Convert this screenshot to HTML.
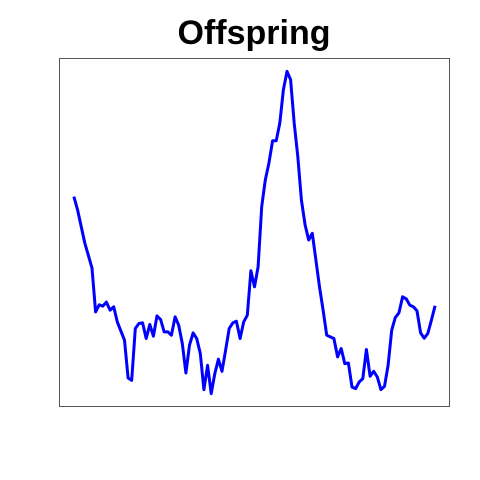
<!DOCTYPE html>
<html><head><meta charset="utf-8"><style>
html,body{margin:0;padding:0;background:#fff;}
svg{display:block;font-family:"Liberation Sans",sans-serif;}
</style></head><body>
<svg id="chart" width="480" height="480" viewBox="0 0 480 480">
<text x="254" y="44" text-anchor="middle" font-size="34" font-weight="bold">Offspring</text>
<rect x="59.5" y="58.5" width="390" height="348" fill="none" stroke="#555" stroke-width="1"/>
<g id="series"></g>
</svg>
<script>
const xIdx = [0,1,3,5,6,7,8,9,10,11,12,14,15,16,17,18,19,20,21,22,23,24,25,26,27,28,29,30,31,32,33,34,35,36,37,38,39,40,41,42,43,44,45,46,47,48,49,50,51,52,53,54,55,56,57,58,59,60,61,62,63,64,65,66,67,68,69,70,71,72,73,74,75,76,77,78,79,80,81,82,83,84,85,86,87,88,89,90,91,92,93,94,95,96,97,98,99,100];
const values = [203.3,190,157,132,88.3,95.3,94,98,90,93.3,78.3,60,22.3,20,71.7,76.7,77.3,61.7,75.7,64,84.3,80.7,68.3,68.3,65,83.3,75,56.7,27.3,55,67.3,61.7,46.7,10.7,35,6.7,26.7,41,29,50,71.7,77.3,79,61.7,78.3,85,129.3,113.3,133.3,193.3,220,236.7,259,259,276.7,310,328.3,320,276.7,243.3,200,175,160,166.7,140,113.3,90,65,63.3,61.7,43.3,51.7,36.7,37.3,13.3,11.7,18.3,21.7,50.7,24,29,23.3,10.7,14,35,70,82.7,87.3,103.3,101.3,95,93.3,89.3,67.3,62,66.7,80,94.3];
const NS='http://www.w3.org/2000/svg';
const xMin=Math.min(...xIdx), xMax=Math.max(...xIdx);
const vMin=Math.min(...values), vMax=Math.max(...values);
const L=59.5,R=449.5,T=58.5,B=406.5;
const px=(R-L)*0.04/1.08, py=(B-T)*0.04/1.08;
function xScale(i){return L+px+(i-xMin)/(xMax-xMin)*(R-L-2*px);}
function yScale(v){return B-py-(v-vMin)/(vMax-vMin)*(B-T-2*py);}
const d=values.map((v,k)=>(k?'L':'M')+xScale(xIdx[k]).toFixed(1)+','+yScale(v).toFixed(1)).join(' ');
const path=document.createElementNS(NS,'path');
path.setAttribute('d',d);
path.setAttribute('fill','none');
path.setAttribute('stroke','#0000ff');
path.setAttribute('stroke-width','3');
path.setAttribute('stroke-linejoin','round');


document.getElementById('series').appendChild(path);
</script>
</body></html>
